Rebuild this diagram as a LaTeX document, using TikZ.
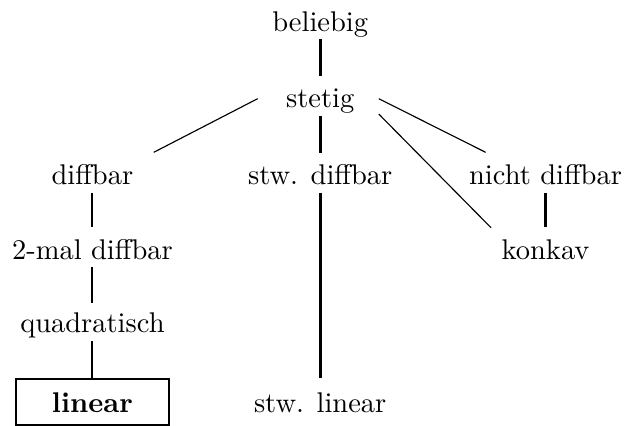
\documentclass[tikz,border=0pt]{standalone}
\usepackage{tikz}
\usetikzlibrary{calc}
\tikzset{lbl/.style = {inner sep=0pt, text height=7pt, text depth=2pt, anchor=base}}
\tikzset{linbox/.style = {draw, line width=0.7pt, inner xsep=12.7pt, inner ysep=4.3pt, text height=7.6pt, text depth=0pt, anchor=base}}
\tikzset{thin line/.style = {line width=0.4pt}, mid line/.style = {line width=0.7pt}, thick line/.style = {line width=1.1pt}}
\tikzset{vert/.style = {shorten <=0.5pt, shorten >=4pt}}

\begin{document}
\begin{tikzpicture}
\useasboundingbox (0,0) rectangle (7.71,5.25);
\node[lbl] (beliebig) at (3.95,4.86) {beliebig};
\node[lbl] (stetig) at (3.95,3.92) {stetig};
\node[lbl] (diffbar) at (1.14,2.97) {diffbar};
\node[lbl] (stwdiffbar) at (3.95,2.97) {stw. diffbar};
\node[lbl] (nichtdiffbar) at (6.73,2.97) {nicht diffbar};
\node[lbl] (zweimal) at (1.14,2.05) {2-mal diffbar};
\node[lbl] (konkav) at (6.73,2.05) {konkav};
\node[lbl] (quadratisch) at (1.14,1.15) {quadratisch};
\node[linbox] (linear) at (1.14,0.16) {\textbf{linear}};
\node[lbl] (stwlinear) at (3.95,0.16) {stw. linear};
\draw[thick line, vert] (beliebig.south) -- (stetig.north);
\draw[thin line] ([shift={(-9.8pt,0.7pt)}]stetig.west) -- ([shift={(7pt,4.2pt)}]diffbar.north east);
\draw[thick line, vert] (stetig.south) -- (stwdiffbar.north);
\draw[thin line] ([shift={(8.4pt,0.7pt)}]stetig.east) -- ([shift={(6pt,4.2pt)}]nichtdiffbar.north west);
\draw[thin line] ([xshift=8.4pt]stetig.south east) -- ([shift={(-3.5pt,3.9pt)}]konkav.north west);
\draw[mid line, vert] (diffbar.south) -- (zweimal.north);
\draw[mid line, vert, shorten >=3.2pt] (zweimal.south) -- (quadratisch.north);
\draw[mid line, shorten <=1pt] (quadratisch.south) -- (linear.north);
\draw[thick line, vert, shorten >=5pt] (stwdiffbar.south) -- (stwlinear.north);
\draw[thick line, vert] (nichtdiffbar.south) -- (konkav.north);
\end{tikzpicture}
\end{document}
